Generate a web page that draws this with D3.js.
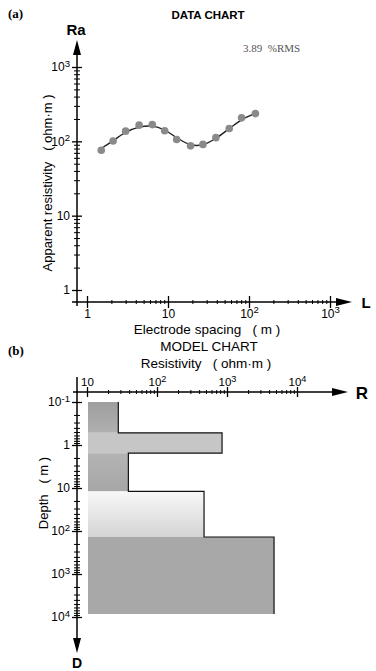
<!DOCTYPE html>
<html>
<head>
<meta charset="utf-8">
<script src="https://cdn.jsdelivr.net/npm/d3@7"></script>
<style>
  body { margin: 0; background: #fff; }
  svg { font-family: "Liberation Sans", Arial, sans-serif; }
  .pre { white-space: pre; }
</style>
</head>
<body>
<div id="container"></div>
<script>
// Constants and globals
const width = 376,
  height = 671

// data chart values
const spacing = [1.5, 2.1, 3.0, 4.4, 6.4, 9.1, 12.8, 19, 27, 39, 57, 81, 120]
const apparentRes = [76, 101, 137, 165, 168, 139, 106, 87, 91, 112, 149, 207, 236]
const fitSpacing = [1.5, 2.1, 3.0, 4.4, 6.4, 9.1, 12.8, 19, 27, 39, 57, 81, 110]
const fitRes = [80, 102, 132, 155, 160, 142, 112, 90, 90, 110, 148, 195, 228]
const rmsText = "3.89  %RMS"

// model chart values
const layerTop = [0.1, 0.52, 1.55, 12, 138]
const layerBottom = [0.52, 1.55, 12, 138, 8500]
const layerRes = [28, 850, 39, 470, 4700]
const layerFill = ["url(#g1)", "#c6c6c6", "url(#g3)", "url(#g4)", "#a8a8a8"]

const majorA = [1, 10, 100, 1000]
const majorR = [10, 100, 1000, 10000]
const majorD = [0.1, 1, 10, 100, 1000, 10000]

const svg = d3.select("#container")
  .append("svg")
  .attr("width", width)
  .attr("height", height)

// vertical gradients for the layer fills
const defs = svg.append("defs")
function grad(id, c1, c2) {
  const g = defs.append("linearGradient").attr("id", id)
    .attr("x1", 0).attr("y1", 0).attr("x2", 0).attr("y2", 1)
  g.append("stop").attr("offset", "0%").attr("stop-color", c1)
  g.append("stop").attr("offset", "100%").attr("stop-color", c2)
}
grad("g1", "#9e9e9e", "#b0b0b0")
grad("g3", "#b4b4b4", "#a6a6a6")
grad("g4", "#f8f8f8", "#d4d4d4")

// label helper: powers of ten with superscripts
function powLabel(sel, v, plain) {
  const e = Math.round(Math.log10(v))
  sel.text(null)
  if (plain.includes(v)) { sel.append("tspan").text(v); return }
  sel.append("tspan").text("10")
  sel.append("tspan").attr("dy", "-0.45em").attr("font-size", "0.8em").text(e)
}

function arrow(g, tip, dir) {
  const [x, y] = tip
  let pts
  if (dir === "up") pts = [[x, y], [x - 4, y + 15], [x + 4, y + 15]]
  if (dir === "down") pts = [[x, y], [x - 4, y - 15], [x + 4, y - 15]]
  if (dir === "right") pts = [[x, y], [x - 16, y - 4], [x - 16, y + 4]]
  g.append("polygon").attr("points", pts.map(p => p.join(",")).join(" ")).attr("fill", "#000")
}

// ---------- (a) DATA CHART ----------
const xScale = d3.scaleLog().domain([1, 1000]).range([87, 330])
const yScale = d3.scaleLog().domain([1, 1000]).range([290, 67])

const ga = svg.append("g")

ga.append("text").attr("x", 8).attr("y", 18)
  .attr("font-family", "Liberation Serif").attr("font-weight", "bold").attr("font-size", 13)
  .text("(a)")
ga.append("text").attr("x", 208).attr("y", 19).attr("text-anchor", "middle")
  .attr("font-weight", "bold").attr("font-size", 11.5).text("DATA CHART")
ga.append("text").attr("x", 243).attr("y", 52).attr("class", "pre")
  .attr("font-family", "Liberation Serif").attr("font-size", 11).attr("fill", "#555")
  .text(rmsText)

// axis lines
ga.append("line").attr("x1", 77).attr("x2", 77).attr("y1", 306).attr("y2", 50)
  .attr("stroke", "#000").attr("stroke-width", 1.5)
arrow(ga, [77, 40], "up")
ga.append("line").attr("x1", 72).attr("x2", 340).attr("y1", 302).attr("y2", 302)
  .attr("stroke", "#000").attr("stroke-width", 1.5)
arrow(ga, [352, 302], "right")

ga.append("text").attr("x", 76).attr("y", 35).attr("text-anchor", "middle")
  .attr("font-weight", "bold").attr("font-size", 15).text("Ra")
ga.append("text").attr("x", 366).attr("y", 308).attr("text-anchor", "middle")
  .attr("font-weight", "bold").attr("font-size", 15).text("L")

// y ticks (cross ticks)
const yMinor = yScale.ticks().filter(d => !majorA.includes(d))
ga.append("g").attr("transform", "translate(77,0)")
  .call(d3.axisLeft(yScale).tickValues(yMinor).tickSize(3).tickFormat(""))
  .call(g => g.select(".domain").remove())
ga.append("g").attr("transform", "translate(77,0)")
  .call(d3.axisRight(yScale).tickValues(yMinor).tickSize(3).tickFormat(""))
  .call(g => g.select(".domain").remove())
const yMaj = ga.append("g").attr("transform", "translate(77,0)")
  .call(d3.axisLeft(yScale).tickValues(majorA).tickSize(5).tickPadding(2))
  .call(g => g.select(".domain").remove())
yMaj.selectAll(".tick line").attr("x2", 5).attr("x1", -5).attr("stroke-width", 1.3)
yMaj.selectAll(".tick text").attr("font-size", 12).attr("font-family", "Liberation Sans")
  .each(function (d) { powLabel(d3.select(this), d, [1, 10]) })

// x ticks
const xMinor = xScale.ticks().filter(d => !majorA.includes(d))
ga.append("g").attr("transform", "translate(0,302)")
  .call(d3.axisTop(xScale).tickValues(xMinor).tickSize(2).tickFormat(""))
  .call(g => g.select(".domain").remove())
ga.append("g").attr("transform", "translate(0,302)")
  .call(d3.axisBottom(xScale).tickValues(xMinor).tickSize(2).tickFormat(""))
  .call(g => g.select(".domain").remove())
const xMaj = ga.append("g").attr("transform", "translate(0,302)")
  .call(d3.axisBottom(xScale).tickValues(majorA).tickSize(6).tickPadding(1))
  .call(g => g.select(".domain").remove())
xMaj.selectAll(".tick line").attr("y1", -6).attr("stroke-width", 1.3)
xMaj.selectAll(".tick text").attr("font-size", 12).attr("font-family", "Liberation Sans")
  .each(function (d) { powLabel(d3.select(this), d, [1, 10]) })

ga.append("text").attr("x", 207).attr("y", 334).attr("text-anchor", "middle").attr("class", "pre")
  .attr("font-size", 13.5).text("Electrode spacing   ( m )")
ga.append("text").attr("transform", "translate(52,183) rotate(-90)").attr("text-anchor", "middle")
  .attr("class", "pre").attr("font-size", 13).text("Apparent resistivity   ( ohm·m )")

// fitted curve
const line = d3.line()
  .x((d, i) => xScale(fitSpacing[i]))
  .y(d => yScale(d))
  .curve(d3.curveCatmullRom)
ga.append("path").datum(fitRes).attr("d", line)
  .attr("fill", "none").attr("stroke", "#222").attr("stroke-width", 1.4)

// observed points
ga.selectAll("circle")
  .data(apparentRes)
  .join("circle")
  .attr("cx", (d, i) => xScale(spacing[i]))
  .attr("cy", d => yScale(d))
  .attr("r", 3.8)
  .attr("fill", "#8a8a8a")

// ---------- (b) MODEL CHART ----------
const rScale = d3.scaleLog().domain([10, 10000]).range([87, 297])
const dScale = d3.scaleLog().domain([0.1, 10000]).range([402, 617])

const gb = svg.append("g")
gb.append("text").attr("x", 8).attr("y", 355)
  .attr("font-family", "Liberation Serif").attr("font-weight", "bold").attr("font-size", 13)
  .text("(b)")
gb.append("text").attr("x", 209).attr("y", 351).attr("text-anchor", "middle")
  .attr("font-size", 13.5).text("MODEL CHART")
gb.append("text").attr("x", 206).attr("y", 368).attr("text-anchor", "middle").attr("class", "pre")
  .attr("font-size", 13.5).text("Resistivity   ( ohm·m )")

// layers
const layers = layerRes.map((r, i) => ({ r, top: layerTop[i], bot: layerBottom[i], fill: layerFill[i] }))
gb.selectAll("rect.layer")
  .data(layers)
  .join("rect")
  .attr("class", "layer")
  .attr("x", rScale(10) + 1)
  .attr("y", d => dScale(d.top))
  .attr("width", d => rScale(d.r) - rScale(10) - 1)
  .attr("height", d => dScale(d.bot) - dScale(d.top))
  .attr("fill", d => d.fill)

// step outline on the right edges
const outline = []
layers.forEach(d => {
  outline.push([rScale(d.r), dScale(d.top)])
  outline.push([rScale(d.r), dScale(d.bot)])
})
gb.append("path").attr("d", d3.line()(outline))
  .attr("fill", "none").attr("stroke", "#111").attr("stroke-width", 1.2)

// axes
gb.append("line").attr("x1", 73).attr("x2", 335).attr("y1", 392).attr("y2", 392)
  .attr("stroke", "#000").attr("stroke-width", 1.5)
arrow(gb, [348, 392], "right")
gb.append("line").attr("x1", 77).attr("x2", 77).attr("y1", 377).attr("y2", 640)
  .attr("stroke", "#000").attr("stroke-width", 1.5)
arrow(gb, [77, 653], "down")
gb.append("text").attr("x", 362).attr("y", 399).attr("text-anchor", "middle")
  .attr("font-weight", "bold").attr("font-size", 17).text("R")
gb.append("text").attr("x", 77).attr("y", 668).attr("text-anchor", "middle")
  .attr("font-weight", "bold").attr("font-size", 14).text("D")

const rMinor = rScale.ticks().filter(d => !majorR.includes(d))
gb.append("g").attr("transform", "translate(0,392)")
  .call(d3.axisTop(rScale).tickValues(rMinor).tickSize(2).tickFormat(""))
  .call(g => g.select(".domain").remove())
gb.append("g").attr("transform", "translate(0,392)")
  .call(d3.axisBottom(rScale).tickValues(rMinor).tickSize(2).tickFormat(""))
  .call(g => g.select(".domain").remove())
const rMaj = gb.append("g").attr("transform", "translate(0,392)")
  .call(d3.axisTop(rScale).tickValues(majorR).tickSize(5).tickPadding(1))
  .call(g => g.select(".domain").remove())
rMaj.selectAll(".tick line").attr("y2", 5).attr("y1", -5).attr("stroke-width", 1.3)
rMaj.selectAll(".tick text").attr("font-size", 11.5).attr("font-family", "Liberation Sans")
  .each(function (d) { powLabel(d3.select(this), d, [10]) })

const dMinor = dScale.ticks().filter(d => !majorD.includes(d))
gb.append("g").attr("transform", "translate(77,0)")
  .call(d3.axisLeft(dScale).tickValues(dMinor).tickSize(3).tickFormat(""))
  .call(g => g.select(".domain").remove())
gb.append("g").attr("transform", "translate(77,0)")
  .call(d3.axisRight(dScale).tickValues(dMinor).tickSize(3).tickFormat(""))
  .call(g => g.select(".domain").remove())
const dMaj = gb.append("g").attr("transform", "translate(77,0)")
  .call(d3.axisLeft(dScale).tickValues(majorD).tickSize(5).tickPadding(2))
  .call(g => g.select(".domain").remove())
dMaj.selectAll(".tick line").attr("x2", 5).attr("x1", -5).attr("stroke-width", 1.3)
dMaj.selectAll(".tick text").attr("font-size", 12).attr("font-family", "Liberation Sans")
  .each(function (d) { powLabel(d3.select(this), d, [1, 10]) })

gb.append("text").attr("transform", "translate(48,493) rotate(-90)").attr("text-anchor", "middle")
  .attr("class", "pre").attr("font-size", 13).text("Depth   ( m )")
</script>
</body>
</html>
